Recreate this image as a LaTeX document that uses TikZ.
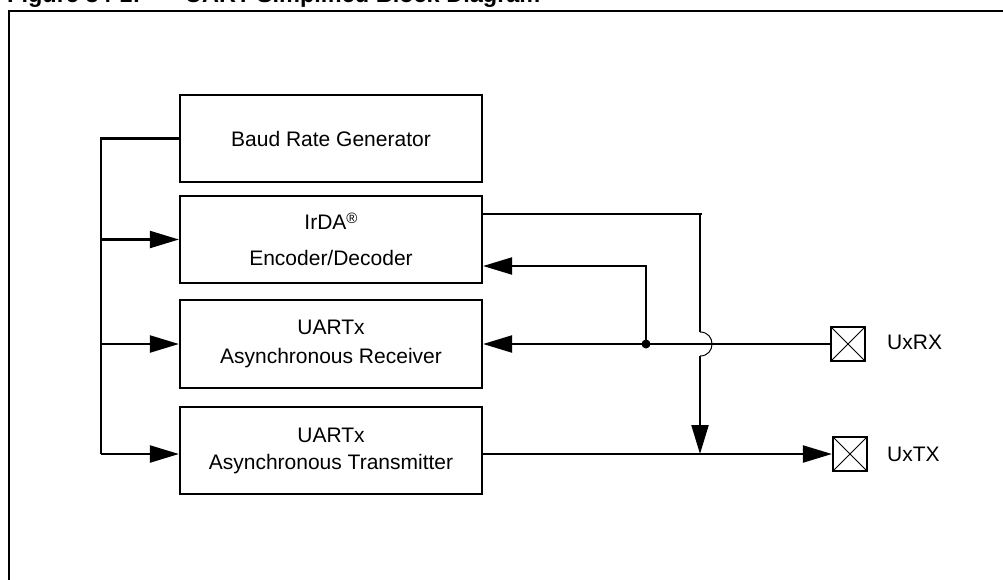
\documentclass[tikz,border=0pt]{standalone}
\usepackage{fontspec}
\setmainfont{Liberation Sans}
\usetikzlibrary{arrows.meta}
\begin{document}
\begin{tikzpicture}[x=1pt,y=-1pt,
  blk/.style={draw, line width=2.2pt, minimum width=302pt, minimum height=87pt, inner sep=0pt, align=center},
  wire/.style={line width=2.2pt},
  arr/.style={wire, -{Triangle[length=29pt,width=17pt]}},
  pin/.style={draw, line width=2.2pt, minimum size=34pt, inner sep=0pt,
    path picture={\draw[line width=1pt] (path picture bounding box.north west) -- (path picture bounding box.south east)
      (path picture bounding box.north east) -- (path picture bounding box.south west);}},
  lab/.style={anchor=west, inner sep=0pt, font=\fontsize{21}{25}\selectfont},
  ttl/.style={anchor=base west, inner sep=0pt, font=\bfseries\fontsize{23.5}{28}\selectfont}
]
\useasboundingbox (0,0) rectangle (1003,579);
% partially visible title and outer frame
\node[ttl] (ttla) at (7,2) {Figure 34-1:};
\node[ttl] (ttlb) at (185,2) {UART Simplified Block Diagram};
\draw[line width=2.2pt] (9,11) rectangle (1030,610);

% blocks
\node[blk, font=\fontsize{21}{25}\selectfont] (baud) at (331,138.5) {Baud Rate Generator};
\node[blk, font=\fontsize{21}{36}\selectfont] (irda) at (331,239.5) {IrDA\raisebox{6.5pt}{\fontsize{15}{15}\selectfont\textregistered}\\Encoder/Decoder};
\node[blk, font=\fontsize{21}{29}\selectfont, minimum height=88pt] (rx) at (331,344) {UARTx\\Asynchronous Receiver};
\node[blk, font=\fontsize{21}{27}\selectfont] (tx) at (331,450.5) {UARTx\\Asynchronous Transmitter};

% pins
\node[pin] (rxpin) at (848,344) {};
\node[pin] (txpin) at (850,454) {};
\node[lab] (rxlab) at (887,342) {UxRX};
\node[lab] (txlab) at (887,454) {UxTX};

% clock bus
\coordinate (bustop) at (101,138.5);
\coordinate (busbot) at (101,454);
\draw[wire] (baud.west) -- (bustop) -- (busbot);
\draw[arr] (bustop |- irda.west) -- (irda.west);
\draw[arr] (bustop |- rx.west) -- (rx.west);
\draw[arr] (busbot) -- (tx.west |- busbot);

% receive path
\coordinate (jn) at (646,344);
\coordinate (fb) at (646,266);
\draw[arr] (rxpin.west) -- (rx.east);
\draw[arr] (jn) -- (fb) -- (irda.east |- fb);
\fill (jn) circle[radius=4.5pt];

% IrDA output to transmit line with hop over receive line
\coordinate (tp) at (700,214);
\coordinate (hopa) at (700,332);
\coordinate (hopb) at (700,356);
\coordinate (tj) at (700,454);
\draw[wire] (irda.east |- tp) -- (702,214);
\draw[wire] (tp) -- (hopa);
\draw[line width=1pt] (hopa) .. controls (716,332) and (716,356) .. (hopb);
\draw[arr] (hopb) -- (tj);

% transmit path
\draw[arr] (tx.east |- txpin.west) -- (txpin.west);
\end{tikzpicture}
\end{document}
